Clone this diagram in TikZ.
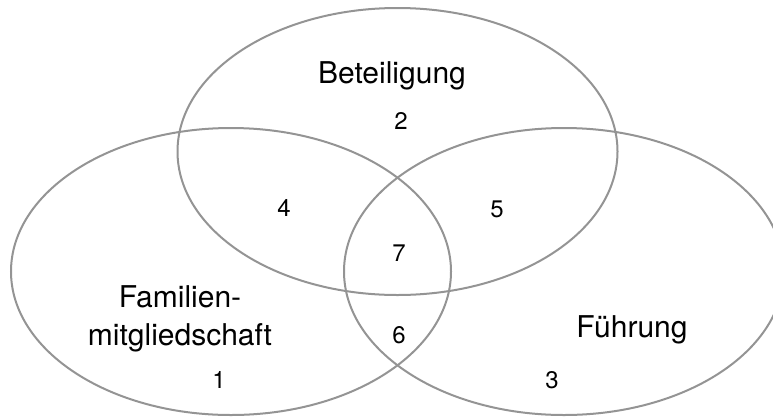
\documentclass[tikz,border=0pt]{standalone}
\usepackage{fontspec}
\setmainfont{TeX Gyre Heros}
\begin{document}
\begin{tikzpicture}[x=1pt, y=-1pt,
    set/.style={draw=black!42, line width=2pt},
    setname/.style={font=\fontsize{30}{38}\selectfont, align=center, anchor=base, inner sep=0pt},
    region/.style={font=\fontsize{24}{28}\selectfont, inner sep=0pt}]
    \useasboundingbox (0,0) rectangle (773,416);
    \begin{scope}
        \clip (0,0) rectangle (773,416);
        \draw[set] (397.5,151.5) ellipse [x radius=220pt, y radius=143.5pt];
        \draw[set] (231,271.5) ellipse [x radius=220pt, y radius=143.5pt];
        \draw[set] (564,271.5) ellipse [x radius=220pt, y radius=143.5pt];
    \end{scope}
    \node[setname] (beteiligung) at (392,83) {Beteiligung};
    \node[setname] (familie) at (180,345) {Familien-\\mitgliedschaft};
    \node[setname] (fuehrung) at (632,337) {Führung};
    \node[region] (n1) at (219,380) {1};
    \node[region] (n2) at (401,121) {2};
    \node[region] (n3) at (552,380) {3};
    \node[region] (n4) at (284,208) {4};
    \node[region] (n5) at (497,209) {5};
    \node[region] (n6) at (399,335) {6};
    \node[region] (n7) at (399,253) {7};
\end{tikzpicture}
\end{document}
